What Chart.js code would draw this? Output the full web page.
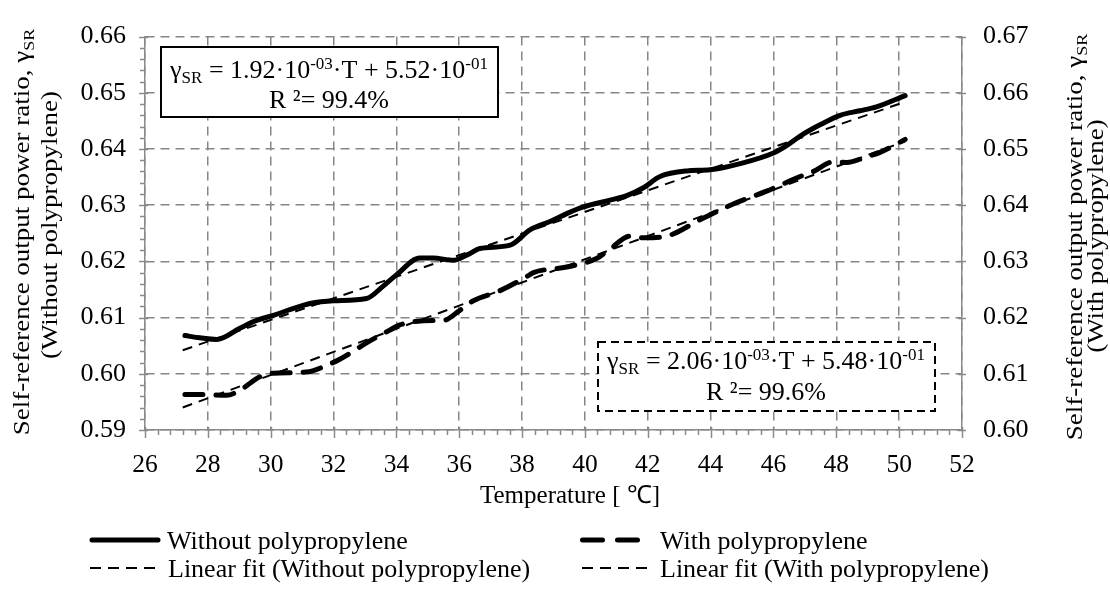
<!DOCTYPE html>
<html>
<head>
<meta charset="utf-8">
<script src="https://cdn.jsdelivr.net/npm/chart.js@4.4.0/dist/chart.umd.min.js"></script>
<style>
  html, body { margin: 0; padding: 0; background: #fff; }
  #wrap { width: 1110px; height: 593px; }
</style>
</head>
<body>
<div id="wrap"><canvas id="chart" width="1110" height="593"></canvas></div>
<script>
// measured curve: without polypropylene (left axis)
const tempWithout = [27.27, 27.75, 28.28, 29.02, 29.55, 30.08, 30.61, 31.25, 32.0, 33.05, 33.58, 34.0, 34.75, 35.17,
  35.81, 36.27, 36.66, 37.62, 38.25, 38.89, 39.42, 39.95, 40.8, 41.33, 41.86, 42.39, 43.24, 43.98, 44.94,
  46.0, 46.42, 46.85, 47.48, 48.12, 48.75, 49.28, 50.19];
const ratioWithout = [0.6068, 0.6064, 0.6061, 0.6081, 0.6095, 0.6104, 0.6114, 0.6125, 0.6130, 0.6134, 0.6156, 0.6176, 0.6206, 0.6206,
  0.6202, 0.6212, 0.6223, 0.6229, 0.6256, 0.6271, 0.6285, 0.6297, 0.6309, 0.6317, 0.6331, 0.6351, 0.6361, 0.6363, 0.6374,
  0.6393, 0.6406, 0.6423, 0.6443, 0.6460, 0.6468, 0.6475, 0.6495];

// measured curve: with polypropylene (right axis)
const tempWith = [27.27, 27.86, 28.6, 29.0, 29.66, 30.08, 31.14, 31.78, 32.2, 33.05, 33.8, 34.11, 35.17, 35.49,
  36.02, 36.45, 37.3, 38.15, 38.36, 39.42, 40.37, 40.8, 41.44, 41.86, 42.6, 43.66, 44.72, 45.78,
  46.85, 47.27, 47.9, 48.33, 48.96, 49.39, 50.19];
const ratioWith = [0.6063, 0.6063, 0.6062, 0.6070, 0.6095, 0.6101, 0.6103, 0.6115, 0.6126, 0.6155, 0.6178, 0.6187, 0.6195, 0.6195,
  0.6213, 0.6230, 0.6248, 0.6273, 0.6280, 0.6290, 0.6305, 0.6322, 0.6345, 0.6342, 0.6345, 0.6374, 0.6402, 0.6425,
  0.6451, 0.6460, 0.6477, 0.6476, 0.6486, 0.6494, 0.6517];

// linear fit end points
const fitTemps = [27.2, 50.2];
const fitWithout = [0.6042, 0.6484];
const fitWith = [0.6040, 0.6514];

// tick labels
const xTicks = [26, 28, 30, 32, 34, 36, 38, 40, 42, 44, 46, 48, 50, 52];
const leftTicks = [0.59, 0.60, 0.61, 0.62, 0.63, 0.64, 0.65, 0.66];
const rightTicks = [0.60, 0.61, 0.62, 0.63, 0.64, 0.65, 0.66, 0.67];

const FONT = "'Liberation Serif', 'Times New Roman', serif";
const GRID = '#868686';
const AXIS = '#8a8a8a';

Chart.defaults.font.family = FONT;
Chart.defaults.color = '#000';

function pts(xs, ys) {
    return xs.map((x, i) => ({ x: x, y: ys[i] }));
}

// draw text with sub/superscript parts: [text, 0 normal | 1 sub | 2 sup]
function drawRich(ctx, parts, x, y, size, align) {
    const small = Math.round(size * 0.66);
    let w = 0;
    parts.forEach(p => {
        ctx.font = (p[1] ? small : size) + 'px ' + FONT;
        w += ctx.measureText(p[0]).width;
    });
    let cx = align === 'center' ? x - w / 2 : x;
    ctx.textAlign = 'left';
    ctx.textBaseline = 'alphabetic';
    ctx.fillStyle = '#000';
    parts.forEach(p => {
        ctx.font = (p[1] ? small : size) + 'px ' + FONT;
        const dy = p[1] === 1 ? size * 0.2 : (p[1] === 2 ? -size * 0.36 : 0);
        ctx.fillText(p[0], cx, y + dy);
        cx += ctx.measureText(p[0]).width;
    });
}

// rotated axis title, glyphs a little narrower across the line as in the original
function drawVertical(ctx, parts, x, y, size) {
    ctx.save();
    ctx.translate(x, y);
    ctx.rotate(-Math.PI / 2);
    ctx.scale(1, 0.85);
    drawRich(ctx, parts, 0, 0, size, 'center');
    ctx.restore();
}

const decorations = {
    id: 'decorations',
    afterDraw(chart) {
        const ctx = chart.ctx;
        const area = chart.chartArea;
        const x = chart.scales.x, y = chart.scales.y, y2 = chart.scales.y2;

        // tick marks
        ctx.save();
        ctx.strokeStyle = AXIS;
        ctx.lineWidth = 1.5;
        ctx.beginPath();
        for (let i = 0; i < xTicks.length; i++) {
            const px = Math.round(x.getPixelForValue(xTicks[i])) + 0.5;
            ctx.moveTo(px, area.bottom - 3);
            ctx.lineTo(px, area.bottom + 8);
            if (i < xTicks.length - 1) {
                for (let k = 1; k < 5; k++) {
                    const mx = Math.round(x.getPixelForValue(xTicks[i] + k * 0.4)) + 0.5;
                    ctx.moveTo(mx, area.bottom);
                    ctx.lineTo(mx, area.bottom + 5);
                }
            }
        }
        for (let i = 0; i < leftTicks.length; i++) {
            const py = Math.round(y.getPixelForValue(leftTicks[i])) + 0.5;
            ctx.moveTo(area.left - 6, py);
            ctx.lineTo(area.left + 3, py);
            if (i < leftTicks.length - 1) {
                for (let k = 1; k < 5; k++) {
                    const my = Math.round(y.getPixelForValue(leftTicks[i] + k * 0.002)) + 0.5;
                    ctx.moveTo(area.left - 5, my);
                    ctx.lineTo(area.left, my);
                }
            }
        }
        for (let i = 0; i < rightTicks.length; i++) {
            const py = Math.round(y2.getPixelForValue(rightTicks[i])) + 0.5;
            ctx.moveTo(area.right - 4, py);
            ctx.lineTo(area.right + 4, py);
        }
        ctx.stroke();
        ctx.restore();

        // equation boxes
        ctx.save();
        ctx.fillStyle = '#fff';
        ctx.strokeStyle = '#000';
        ctx.lineWidth = 2;
        ctx.fillRect(161, 47, 337, 70);
        ctx.strokeRect(161, 47, 337, 70);
        ctx.fillRect(598, 342, 337, 69);
        ctx.setLineDash([8, 5]);
        ctx.strokeRect(598, 342, 337, 69);
        ctx.setLineDash([]);
        drawRich(ctx, [['γ', 0], ['SR', 1], [' = 1.92·10', 0], ['-03', 2], ['·T + 5.52·10', 0], ['-01', 2]], 329, 78, 26, 'center');
        drawRich(ctx, [['R ²= 99.4%', 0]], 329, 108, 26, 'center');
        drawRich(ctx, [['γ', 0], ['SR', 1], [' = 2.06·10', 0], ['-03', 2], ['·T + 5.48·10', 0], ['-01', 2]], 766, 369, 26, 'center');
        drawRich(ctx, [['R ²= 99.6%', 0]], 766, 400, 26, 'center');
        ctx.restore();

        // axis titles
        ctx.save();
        drawRich(ctx, [['Temperature [ ℃]', 0]], 480, 503, 25, 'left');
        drawVertical(ctx, [['Self-reference output power ratio, γ', 0], ['SR', 1]], 29, 232, 27);
        drawVertical(ctx, [['(Without polypropylene)', 0]], 57, 225, 27);
        drawVertical(ctx, [['Self-reference output power ratio, γ', 0], ['SR', 1]], 1082, 237, 27);
        drawVertical(ctx, [['(With polypropylene)', 0]], 1103, 236, 27);
        ctx.restore();

        // legend
        ctx.save();
        ctx.strokeStyle = '#000';
        ctx.lineCap = 'round';
        ctx.lineWidth = 5;
        ctx.beginPath();
        ctx.moveTo(92, 540); ctx.lineTo(158, 540);
        ctx.stroke();
        ctx.setLineDash([20, 15]);
        ctx.beginPath();
        ctx.moveTo(582.5, 540); ctx.lineTo(638, 540);
        ctx.stroke();
        ctx.lineCap = 'butt';
        ctx.lineWidth = 2;
        ctx.setLineDash([11, 7]);
        ctx.beginPath();
        ctx.moveTo(90, 568); ctx.lineTo(161, 568);
        ctx.moveTo(582, 568); ctx.lineTo(653, 568);
        ctx.stroke();
        ctx.setLineDash([]);
        drawRich(ctx, [['Without polypropylene', 0]], 167, 549, 26, 'left');
        drawRich(ctx, [['With polypropylene', 0]], 660, 549, 26, 'left');
        drawRich(ctx, [['Linear fit (Without polypropylene)', 0]], 168, 577, 26, 'left');
        drawRich(ctx, [['Linear fit (With polypropylene)', 0]], 660, 577, 26, 'left');
        ctx.restore();
    }
};

new Chart(document.getElementById('chart'), {
    type: 'line',
    data: {
        datasets: [
            {
                label: 'Linear fit (Without polypropylene)',
                data: pts(fitTemps, fitWithout),
                yAxisID: 'y',
                borderColor: '#000',
                borderWidth: 2,
                borderDash: [10, 7],
                pointRadius: 0,
                tension: 0
            },
            {
                label: 'Linear fit (With polypropylene)',
                data: pts(fitTemps, fitWith),
                yAxisID: 'y2',
                borderColor: '#000',
                borderWidth: 2,
                borderDash: [10, 7],
                pointRadius: 0,
                tension: 0
            },
            {
                label: 'Without polypropylene',
                data: pts(tempWithout, ratioWithout),
                yAxisID: 'y',
                borderColor: '#000',
                borderWidth: 5,
                borderCapStyle: 'round',
                pointRadius: 0,
                cubicInterpolationMode: 'monotone'
            },
            {
                label: 'With polypropylene',
                data: pts(tempWith, ratioWith),
                yAxisID: 'y2',
                borderColor: '#000',
                borderWidth: 5,
                borderCapStyle: 'round',
                borderDash: [18, 13],
                pointRadius: 0,
                cubicInterpolationMode: 'monotone'
            }
        ]
    },
    options: {
        responsive: false,
        animation: false,
        devicePixelRatio: 1,
        layout: { padding: { top: 24, left: 0, right: 0, bottom: 0 } },
        plugins: {
            legend: { display: false },
            tooltip: { enabled: false }
        },
        scales: {
            x: {
                type: 'linear',
                min: 26,
                max: 52,
                afterFit: s => { s.height = 163; },
                afterBuildTicks: s => { s.ticks = xTicks.map(v => ({ value: v })); },
                ticks: { padding: 20, autoSkip: false, maxRotation: 0, font: { size: 25.5 }, color: '#000' },
                grid: { color: GRID, lineWidth: 1.5, drawTicks: false },
                border: { color: AXIS, width: 1.5, dash: [9, 6] }
            },
            y: {
                type: 'linear',
                position: 'left',
                min: 0.59,
                max: 0.66,
                afterFit: s => { s.width = 145; },
                afterBuildTicks: s => { s.ticks = leftTicks.map(v => ({ value: v })); },
                ticks: { padding: 19, font: { size: 26 }, color: '#000', callback: v => v.toFixed(2) },
                grid: { color: GRID, lineWidth: 1.5, drawTicks: false },
                border: { color: AXIS, width: 1.5, dash: [9, 6] }
            },
            y2: {
                type: 'linear',
                position: 'right',
                min: 0.60,
                max: 0.67,
                afterFit: s => { s.width = 148; },
                afterBuildTicks: s => { s.ticks = rightTicks.map(v => ({ value: v })); },
                ticks: { padding: 21, font: { size: 26 }, color: '#000', callback: v => v.toFixed(2) },
                grid: { drawOnChartArea: false, drawTicks: false },
                border: { color: AXIS, width: 1.5 }
            }
        }
    },
    plugins: [decorations]
});
</script>
</body>
</html>
